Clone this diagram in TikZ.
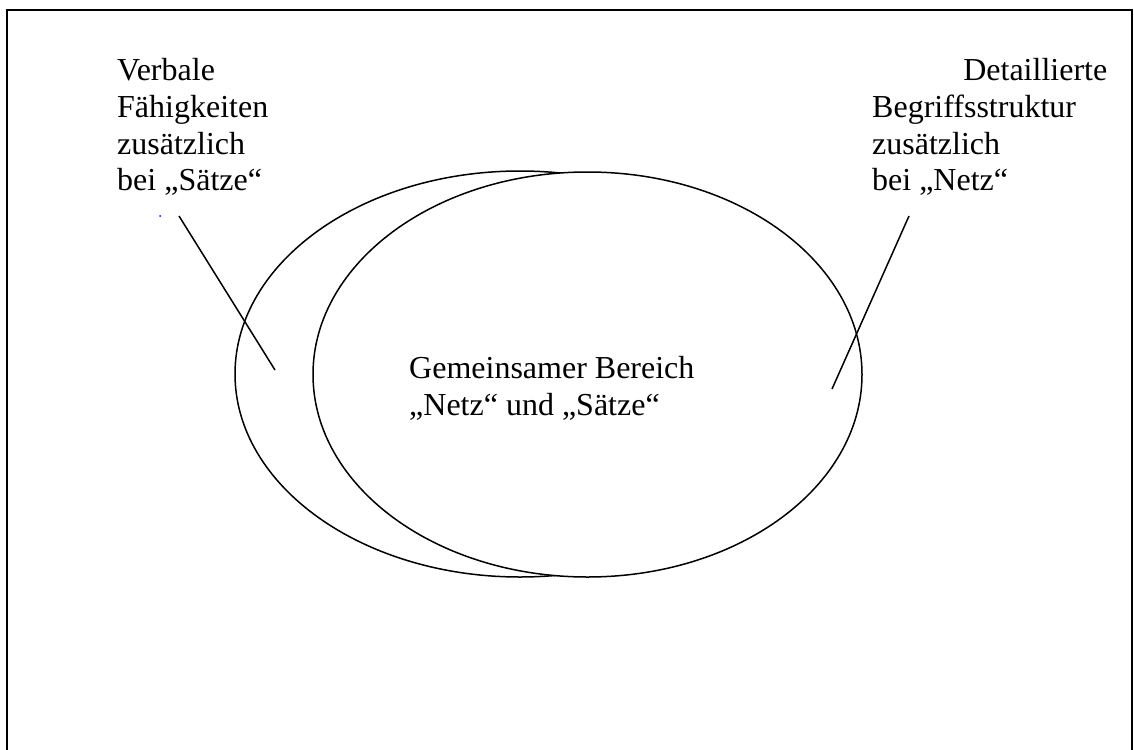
\documentclass[tikz,border=0pt]{standalone}
\usepackage{fontspec}
\setmainfont{Liberation Serif}
\usetikzlibrary{shapes.geometric}
\begin{document}
\begin{tikzpicture}[x=1pt,y=-1pt,
  txt/.style={font=\fontsize{32}{36.8}\selectfont, inner sep=0pt, anchor=north west, align=left},
  venn/.style={ellipse, draw, line width=1.5pt, inner sep=0pt},
  pointer/.style={line width=1.5pt}]
\useasboundingbox (0,0) rectangle (1134,749);
\fill[white] (0,0) rectangle (1134,749);
\draw[line width=2pt] (7,770) -- (7,10) -- (1132,10) -- (1132,770);
\node[venn, minimum width=570pt, minimum height=406pt] (setS) at (520,374) {};
\node[venn, fill=white, minimum width=549pt, minimum height=405pt] (setN) at (587.5,374.5) {};
\node[txt] (lefttxt) at (117,58) {Verbale\\Fähigkeiten\\zusätzlich\\bei „Sätze“};
\node[txt] (righttxt) at (872,58) {\makebox[235pt][r]{Detaillierte}\\Begriffsstruktur\\zusätzlich\\bei „Netz“};
\node[txt] (midtxt) at (409,356) {Gemeinsamer Bereich\\„Netz“ und „Sätze“};
\coordinate (lA) at (179,216);
\coordinate (lB) at (275,370);
\coordinate (rA) at (909,216);
\coordinate (rB) at (832,389);
\draw[pointer] (lA) -- (lB);
\draw[pointer] (rA) -- (rB);
\fill[blue] (160,216) circle (1pt);
\end{tikzpicture}
\end{document}
